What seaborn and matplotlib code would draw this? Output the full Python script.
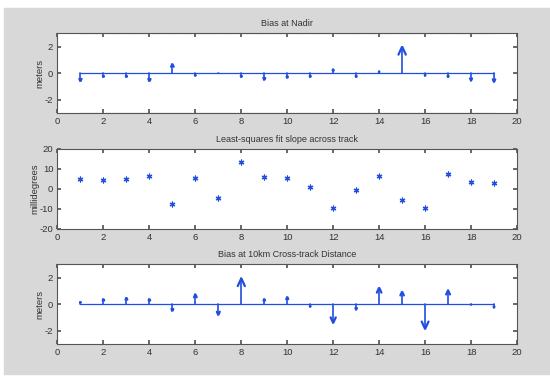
import numpy as np
import pandas as pd
import matplotlib
matplotlib.use("Agg")
import matplotlib.pyplot as plt
from matplotlib.patches import Rectangle
import seaborn as sns

# track number 1..19
track = list(range(1, 20))

bias_nadir = [-0.6, -0.3, -0.3, -0.6, 0.7, -0.2, 0.03, -0.3, -0.5, -0.35,
              -0.3, 0.3, -0.3, 0.15, 2.0, -0.2, -0.3, -0.55, -0.65]
slope_mdeg = [4.8, 4.5, 4.8, 6.3, -7.3, 5.3, -4.5, 13.5, 5.8, 5.7,
              1.0, -9.5, -0.5, 6.3, -5.5, -9.5, 7.7, 3.3, 3.2]
bias_10km = [0.2, 0.4, 0.5, 0.4, -0.5, 0.75, -0.8, 1.95, 0.4, 0.55,
             -0.2, -1.4, -0.4, 1.25, 0.95, -1.85, 1.05, -0.05, -0.25]

titles = ["Bias at Nadir", "Least-squares fit slope across track",
          "Bias at 10km Cross-track Distance"]
ylabels = ["meters", "millidegrees", "meters"]

blue = "#1f4ee0"
txt = "#333333"

sns.set_theme(style="white", rc={
    "axes.edgecolor": "#555555",
    "axes.linewidth": 0.8,
    "axes.unicode_minus": False,
    "xtick.direction": "in",
    "ytick.direction": "in",
    "xtick.color": "#555555",
    "ytick.color": "#555555",
    "xtick.labelcolor": txt,
    "ytick.labelcolor": txt,
    "xtick.major.size": 3,
    "ytick.major.size": 3,
    "xtick.top": True,
    "ytick.right": True,
    "xtick.bottom": True,
    "ytick.left": True,
})
plt.rcParams["font.family"] = ["Liberation Sans", "DejaVu Sans"]

fig = plt.figure(figsize=(5.5, 3.81), dpi=100)
fig.patch.set_facecolor("white")
fig.patches.append(Rectangle((4 / 550, 1 - 374 / 381), 546 / 550, 366 / 381,
                             transform=fig.transFigure, color="#d8d8d8", zorder=-1))

left, width, height = 57.5 / 550, 459.5 / 550, 80 / 381
bottoms = [1 - 113.3 / 381, 1 - 229 / 381, 1 - 344.3 / 381]
axes = [fig.add_axes([left, b, width, height]) for b in bottoms]


def arrows(ax, xs, vals):
    zero = pd.DataFrame({"x": [xs[0], xs[-1]], "y": [0, 0]})
    sns.lineplot(data=zero, x="x", y="y", ax=ax, color=blue, lw=0.9)
    for x, v in zip(xs, vals):
        if v == 0:
            continue
        hl = 0.3 * abs(v)
        hw = 0.08 * abs(v)
        s = np.sign(v)
        ax.plot([x, x], [0, v], color=blue, lw=1.2, solid_capstyle="round")
        ax.plot([x - hw, x, x + hw], [v - s * hl, v, v - s * hl], color=blue,
                lw=1.6, solid_capstyle="round", solid_joinstyle="miter")


# top: bias at nadir
ax = axes[0]
arrows(ax, track, bias_nadir)
for yy in (3, -3):
    ax.plot([track[0], track[-1]], [yy, yy], color="#5f80dd", lw=0.9,
            ls=(0, (1.5, 1)))
ax.set_ylim(-3, 3)
ax.set_yticks([-2, 0, 2])

# middle: slope
ax = axes[1]
df = pd.DataFrame({"track": track, "slope": slope_mdeg})
sns.scatterplot(data=df, x="track", y="slope", ax=ax, marker=(6, 2, 0), s=12,
                color=blue, edgecolor=blue, linewidth=0.9)
ax.set_ylim(-20, 20)
ax.set_yticks([-20, -10, 0, 10, 20])

# bottom: bias at 10 km
ax = axes[2]
arrows(ax, track, bias_10km)
ax.set_ylim(-3, 3)
ax.set_yticks([-2, 0, 2])

for ax, t, yl in zip(axes, titles, ylabels):
    ax.set_xlim(0, 20)
    ax.set_xticks(range(0, 21, 2))
    ax.set_facecolor("white")
    ax.set_title(t, fontsize=6.5, color=txt, pad=5)
    ax.set_ylabel(yl, fontsize=6.8, color=txt, labelpad=0)
    ax.set_xlabel("")
    ax.tick_params(labelsize=6.8, pad=3)
    for sp in ax.spines.values():
        sp.set_visible(True)

fig.savefig("out.png", dpi=100, facecolor=fig.get_facecolor())
